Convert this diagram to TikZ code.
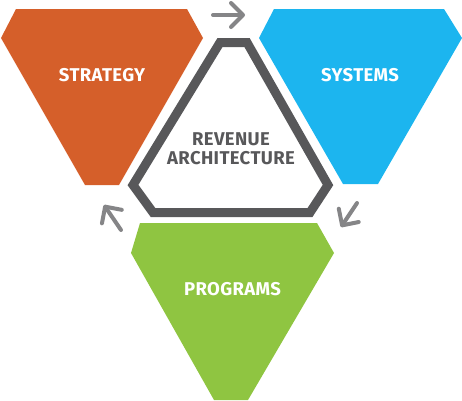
\documentclass[tikz,border=0pt]{standalone}
\usepackage{fontspec}
\setmainfont{Fira Sans}[LetterSpace=2]
\usetikzlibrary{arrows.meta}
\definecolor{strategyorange}{HTML}{D55F2A}
\definecolor{systemsblue}{HTML}{1CB5EF}
\definecolor{programsgreen}{HTML}{8FC541}
\definecolor{hexgray}{HTML}{58585A}
\definecolor{arrowgray}{HTML}{858587}
\tikzset{
  boxlabel/.style={text=white,font=\bfseries\fontsize{18.5}{20}\selectfont,inner sep=0pt},
  cyclearrow/.style={draw=arrowgray,line width=4pt,line cap=round,
    -{Straight Barb[length=12pt,width=24pt,line cap=round,line join=round]}}
}
\begin{document}
\begin{tikzpicture}[x=1pt,y=-1pt]
				\useasboundingbox (0,0) rectangle (462,400);
				\fill[strategyorange] (16,9) -- (187,9) -- (203,38) -- (119,185) -- (85,185) -- (1,38) -- cycle;
				\fill[systemsblue] (274,9) -- (444,9) -- (462,38) -- (378,184) -- (343,184) -- (259,38) -- cycle;
				\fill[programsgreen] (140,223) -- (317,223) -- (334,253) -- (248,400) -- (214,400) -- (131,253) -- cycle;
				\draw[hexgray,line width=9pt,line join=miter] (220,42.5) -- (247,42.5) -- (328,185) -- (310,212.5) -- (153,212.5) -- (133,185) -- cycle;
				\coordinate (topA) at (213,15);
				\coordinate (topB) at (245,15);
				\coordinate (rightA) at (357,203);
				\coordinate (rightB) at (341,227);
				\coordinate (leftA) at (121,230);
				\coordinate (leftB) at (104,205);
				\draw[cyclearrow] (topA) -- (topB);
				\draw[cyclearrow] (rightA) -- (rightB);
				\draw[cyclearrow] (leftA) -- (leftB);
				\node[boxlabel] (strategy) at (102,75) {STRATEGY};
				\node[boxlabel] (systems) at (360,75) {SYSTEMS};
				\node[boxlabel] (programs) at (232.5,289) {PROGRAMS};
				\node[boxlabel,text=hexgray,align=center,font=\bfseries\fontsize{18.5}{19}\selectfont] (revenue) at (231,148.5) {REVENUE\\ARCHITECTURE};
			\end{tikzpicture}
\end{document}
